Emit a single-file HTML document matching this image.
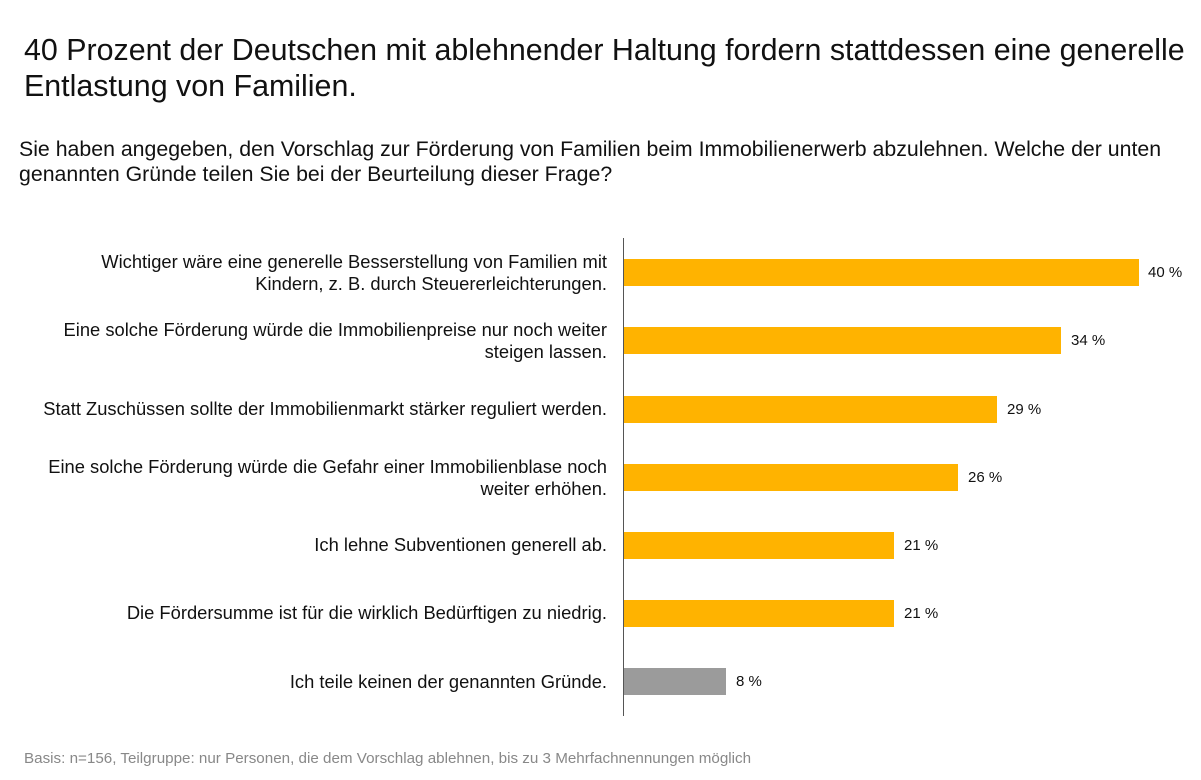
<!DOCTYPE html>
<html><head><meta charset="utf-8"><style>
body{margin:0;width:1201px;height:780px;background:#fff;font-family:"Liberation Sans",Arial,sans-serif;position:relative;overflow:hidden}
.t{position:absolute;left:24px;top:32px;font-size:30.4px;line-height:36px;color:#111;white-space:nowrap}
.s{position:absolute;left:19px;top:137px;font-size:21.3px;line-height:25px;color:#111;white-space:nowrap}
.ax{position:absolute;left:623px;top:238px;width:1px;height:478px;background:#555}
.b{position:absolute;left:624px;height:27px;background:#FFB300}
.v{position:absolute;font-size:15px;color:#111}
.l{position:absolute;right:594px;text-align:right;font-size:18.35px;line-height:22px;color:#111;white-space:nowrap}
.f{position:absolute;left:24px;top:750px;font-size:15.2px;color:#888;white-space:nowrap}
</style></head><body>
<div class="t">40 Prozent der Deutschen mit ablehnender Haltung fordern stattdessen eine generelle<br>Entlastung von Familien.</div>
<div class="s">Sie haben angegeben, den Vorschlag zur Förderung von Familien beim Immobilienerwerb abzulehnen. Welche der unten<br>genannten Gründe teilen Sie bei der Beurteilung dieser Frage?</div>
<div class="ax"></div>
<div class="l" style="top:251px">Wichtiger wäre eine generelle Besserstellung von Familien mit<br>Kindern, z. B. durch Steuererleichterungen.</div>
<div class="l" style="top:319px">Eine solche Förderung würde die Immobilienpreise nur noch weiter<br>steigen lassen.</div>
<div class="l" style="top:398px">Statt Zuschüssen sollte der Immobilienmarkt stärker reguliert werden.</div>
<div class="l" style="top:456px">Eine solche Förderung würde die Gefahr einer Immobilienblase noch<br>weiter erhöhen.</div>
<div class="l" style="top:534px">Ich lehne Subventionen generell ab.</div>
<div class="l" style="top:602px">Die Fördersumme ist für die wirklich Bedürftigen zu niedrig.</div>
<div class="l" style="top:671px">Ich teile keinen der genannten Gründe.</div>
<div class="b" style="top:259px;width:515px"></div><div class="v" style="left:1148px;top:264px">40 %</div>
<div class="b" style="top:327px;width:437px"></div><div class="v" style="left:1071px;top:332px">34 %</div>
<div class="b" style="top:396px;width:373px"></div><div class="v" style="left:1007px;top:401px">29 %</div>
<div class="b" style="top:464px;width:334px"></div><div class="v" style="left:968px;top:469px">26 %</div>
<div class="b" style="top:532px;width:270px"></div><div class="v" style="left:904px;top:537px">21 %</div>
<div class="b" style="top:600px;width:270px"></div><div class="v" style="left:904px;top:605px">21 %</div>
<div class="b" style="top:668px;width:102px;background:#9b9b9b"></div><div class="v" style="left:736px;top:673px">8 %</div>
<div class="f">Basis: n=156, Teilgruppe: nur Personen, die dem Vorschlag ablehnen, bis zu 3 Mehrfachnennungen möglich</div>
</body></html>
